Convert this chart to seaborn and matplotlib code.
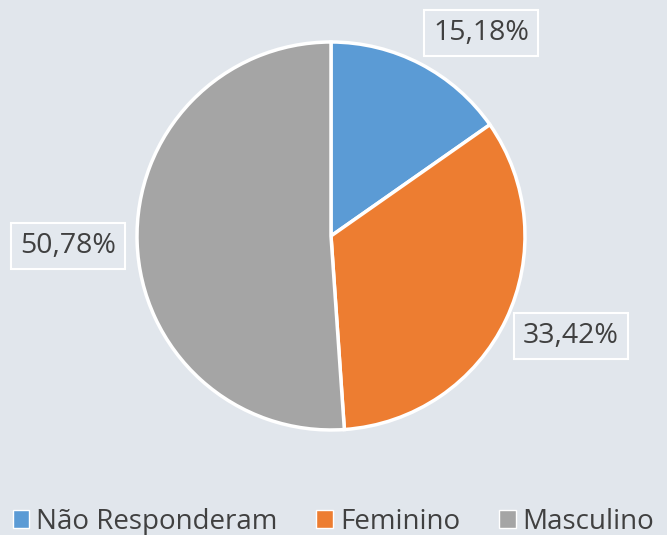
import matplotlib
matplotlib.use("Agg")
import matplotlib.pyplot as plt
import seaborn as sns
from matplotlib.patches import Patch

categories = ["Não Responderam", "Feminino", "Masculino"]
values = [15.18, 33.42, 50.78]
colors = ["#5B9BD5", "#ED7D31", "#A5A5A5"]
# label box centres in pie units (radius = 1)
label_pos = [(0.773, 1.046), (1.237, -0.515), (-1.356, -0.052)]

sns.set_theme(style="white")
plt.rcParams["font.family"] = ["Open Sans", "DejaVu Sans"]

bg = "#e1e6ec"
fig = plt.figure(figsize=(6.67, 5.35), dpi=100, facecolor=bg)
ax = fig.add_axes([0.2054, 0.1963, 0.5817, 0.7252])
ax.set_facecolor("none")

wedges, _ = ax.pie(values, colors=colors, startangle=90, counterclock=False,
                   radius=1, wedgeprops=dict(edgecolor="white", linewidth=2.5))
ax.set_xlim(-1, 1)
ax.set_ylim(-1, 1)
ax.set_aspect("equal")
ax.axis("off")

for v, (x, y) in zip(values, label_pos):
    txt = f"{v:.2f}%".replace(".", ",")
    ax.text(x, y, txt, ha="center", va="center", fontsize=20.5, color="#404040",
            clip_on=False,
            bbox=dict(boxstyle="square,pad=0.32", facecolor="#e3e8ee",
                      edgecolor="white", linewidth=1.5))

handles = [Patch(facecolor=c, edgecolor="white", linewidth=1) for c in colors]
leg = fig.legend(handles, categories, loc="lower center", ncol=3,
                 bbox_to_anchor=(0.5, -0.048), frameon=False, fontsize=20,
                 handlelength=0.6, handleheight=0.6, handletextpad=0.25,
                 columnspacing=1.4, labelcolor="#404040")

fig.savefig("out.png", dpi=100, facecolor=bg)
